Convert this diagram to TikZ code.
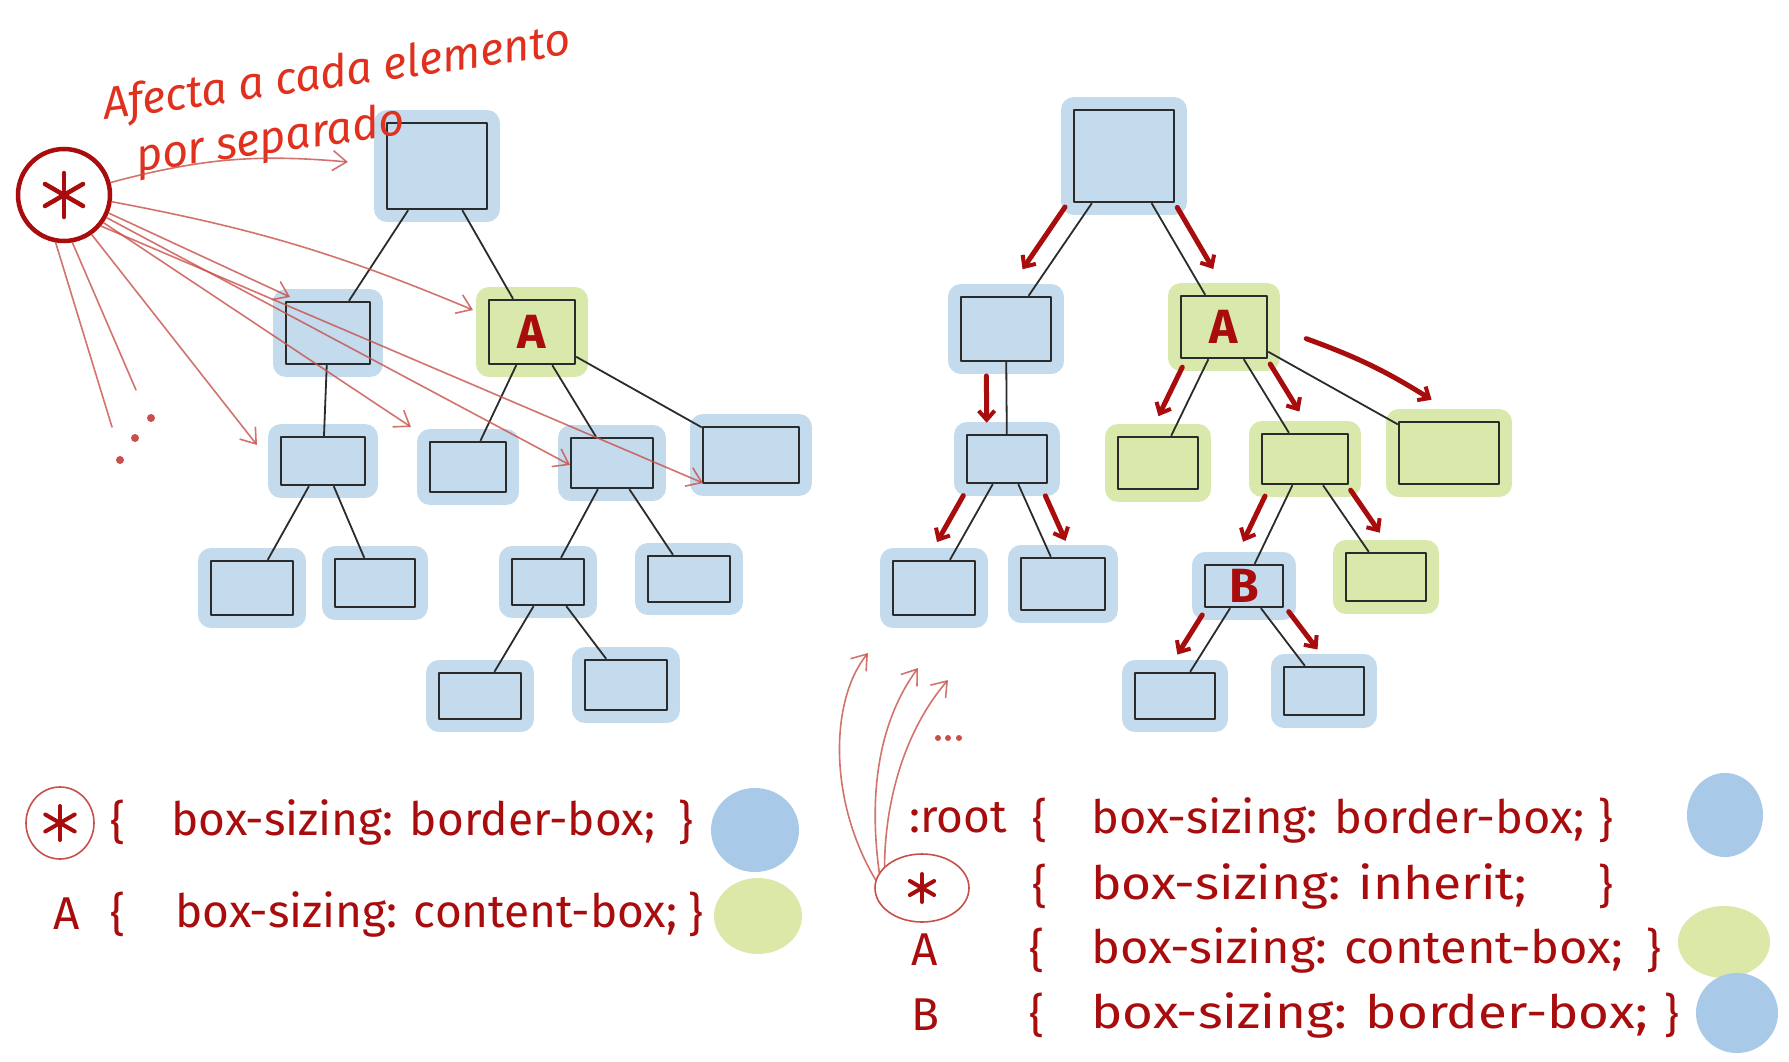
\documentclass[tikz,border=0pt]{standalone}
\usepackage{fontspec}
\setmainfont{Fira Sans}
\usetikzlibrary{arrows.meta,calc,shapes.geometric}

\definecolor{ink}{HTML}{2B2B2B}
\definecolor{boxblue}{HTML}{C3DBEC}
\definecolor{boxgreen}{HTML}{D9E8AB}
\definecolor{legblue}{HTML}{A8C9E8}
\definecolor{leggreen}{HTML}{DBE8A8}
\definecolor{handred}{HTML}{A80C0C}
\definecolor{titlered}{HTML}{E0301E}
\definecolor{sketchred}{HTML}{C8504A}

\tikzset{
  sz/.style 2 args={minimum width=#1pt, minimum height=#2pt},
  box/.style={draw=ink, line width=2.4pt, inner sep=0pt, line join=round},
  bbox/.style={box, fill=boxblue, preaction={draw=boxblue, line width=26pt, line join=round}},
  gbox/.style={box, fill=boxgreen, preaction={draw=boxgreen, line width=26pt, line join=round}},
  edge/.style={draw=ink, line width=1.8pt},
  flow/.style={draw=handred, line width=5pt, line cap=round, -{Straight Barb[length=9pt,width=16pt,line width=4pt]}},
  sk/.style={draw=sketchred, line width=1.6pt, opacity=.8, line cap=round, -{Straight Barb[length=14pt,width=20pt]}},
  skline/.style={draw=sketchred, line width=1.6pt, opacity=.8, line cap=round},
  title/.style={text=titlered, font=\fontsize{45}{48}\selectfont\itshape, inner sep=0pt},
  legend/.style={text=handred, font=\fontsize{46}{50}\selectfont, inner sep=0pt},
  letter/.style={text=handred, font=\fontsize{48}{50}\selectfont\bfseries},
}

% asterisk made of three strokes
\newcommand\starmark[3]{%
  \foreach \a in {90,30,-30}
    \draw[handred, line width=#3, line cap=round] ($(#1)+(\a:#2)$) -- ($(#1)+(\a+180:#2)$);
}

\begin{document}
\begin{tikzpicture}[x=1pt, y=-1pt]
  \fill[white] (0,0) rectangle (1789,1062);
  \useasboundingbox (0,0) rectangle (1789,1062);

  % left tree
  \node[bbox, sz={100}{86}] (r0) at (437,166) {};
  \node[bbox, sz={84}{62}] (l1) at (328,333) {};
  \node[gbox, sz={86}{64}, letter] (la) at (532,332) {A};
  \node[bbox, sz={84}{48}] (l2a) at (323,461) {};
  \node[bbox, sz={76}{50}] (l2b) at (468,467) {};
  \node[bbox, sz={82}{50}] (l2c) at (612,463) {};
  \node[bbox, sz={96}{56}] (l2d) at (751,455) {};
  \node[bbox, sz={82}{54}] (l3a) at (252,588) {};
  \node[bbox, sz={80}{48}] (l3b) at (375,583) {};
  \node[bbox, sz={72}{46}] (l3c) at (548,582) {};
  \node[bbox, sz={82}{46}] (l3d) at (689,579) {};
  \node[bbox, sz={82}{46}] (l4a) at (480,696) {};
  \node[bbox, sz={82}{50}] (l4b) at (626,685) {};

  \foreach \p/\c in {r0/l1, r0/la, l1/l2a, la/l2b, la/l2c, la/l2d,
                     l2a/l3a, l2a/l3b, l2c/l3c, l2c/l3d, l3c/l4a, l3c/l4b}
    \draw[edge] (\p) -- (\c);

  % right tree
  \node[bbox, sz={100}{92}] (q0) at (1124,156) {};
  \node[bbox, sz={90}{64}] (q1) at (1006,329) {};
  \node[gbox, sz={86}{62}, letter] (qa) at (1224,327) {A};
  \node[bbox, sz={80}{48}] (q2a) at (1007,459) {};
  \node[gbox, sz={80}{52}] (q2b) at (1158,463) {};
  \node[gbox, sz={86}{50}] (q2c) at (1305,459) {};
  \node[gbox, sz={100}{62}] (q2d) at (1449,453) {};
  \node[bbox, sz={82}{54}] (q3a) at (934,588) {};
  \node[bbox, sz={84}{52}] (q3b) at (1063,584) {};
  \node[bbox, sz={78}{42}, letter] (qb) at (1244,586) {B};
  \node[gbox, sz={80}{48}] (q3d) at (1386,577) {};
  \node[bbox, sz={80}{46}] (q4a) at (1175,696) {};
  \node[bbox, sz={80}{48}] (q4b) at (1324,691) {};

  \foreach \p/\c in {q0/q1, q0/qa, q1/q2a, qa/q2b, qa/q2c, qa/q2d,
                     q2a/q3a, q2a/q3b, q2c/qb, q2c/q3d, qb/q4a, qb/q4b}
    \draw[edge] (\p) -- (\c);

  % inheritance arrows
  \foreach \p/\c/\s in {q0/q1/-90, q0/qa/90, q1/q2a/-90, qa/q2b/-90, qa/q2c/90,
                        q2a/q3a/-90, q2a/q3b/90, q2c/qb/-90, q2c/q3d/90, qb/q4a/-90, qb/q4b/90}
    \draw[flow] ($(\p)!.36!(\c)!20pt!\s:(\c)$) -- ($(\p)!.72!(\c)!20pt!\s:(\c)$);
  \draw[flow] ($(qa)!.3!(q2d)!30pt!90:(q2d)$) to[bend left=6] ($(qa)!.84!(q2d)!38pt!90:(q2d)$);

  % title
  \node[title, anchor=base west, rotate=8] (ttl1) at (105,120) {Afecta a cada elemento};
  \node[title, anchor=base west, rotate=8] (ttl2) at (138,172) {por separado};

  % universal selector and its reach
  \node[draw=handred, line width=4.5pt, circle, minimum size=92pt] (star) at (64,195) {};
  \starmark{star}{22}{4.5pt}

  \coordinate (t1) at (348,162);
  \coordinate (t2) at (473,310);
  \coordinate (t3) at (290,297);
  \coordinate (t4) at (411,427);
  \coordinate (t5) at (570,465);
  \coordinate (t6) at (703,483);
  \coordinate (t7) at (257,445);
  \draw[sk] (star.15) to[bend left=10] (t1);
  \draw[sk] (star.-8) to[bend left=6] (t2);
  \draw[sk] (star.-22) -- (t3);
  \draw[sk] (star.-35) -- (t4);
  \draw[sk] (star.-28) -- (t5);
  \draw[sk] (star.-40) -- (t6);
  \draw[sk] (star.-55) -- (t7);
  \draw[skline] (star.-100) -- (112,427);
  \draw[skline] (star.-80) -- (136,390);
  \foreach \x/\y in {120/460, 135/438, 151/418}
    \fill[sketchred] (\x,\y) circle (4pt);

  % left legend
  \node[draw=sketchred, line width=1.6pt, ellipse, minimum width=68pt, minimum height=72pt] (lstar) at (60,823) {};
  \starmark{lstar}{17}{4pt}
  \node[legend] (lob1) at (118,822) {\{};
  \node[legend, anchor=west] (lrule1) at (171,822) {box-sizing: border-box;};
  \node[legend] (lcb1) at (686,822) {\}};
  \fill[legblue] (755,830) ellipse [x radius=44pt, y radius=42pt];

  \node[legend] (lsel2) at (67,914) {A};
  \node[legend] (lob2) at (118,914) {\{};
  \node[legend, anchor=west] (lrule2) at (175,914) {box-sizing: content-box;};
  \node[legend] (lcb2) at (696,914) {\}};
  \fill[leggreen] (758,916) ellipse [x radius=44pt, y radius=38pt];

  % right legend
  \node[legend] (rsel1) at (958,818) {:root};
  \node[legend] (rob1) at (1040,820) {\{};
  \node[legend, anchor=west, xscale=1.02] (rrule1) at (1091,820) {box-sizing: border-box;};
  \node[legend] (rcb1) at (1606,820) {\}};
  \fill[legblue] (1725,815) ellipse [x radius=38pt, y radius=42pt];

  \node[draw=sketchred, line width=1.6pt, ellipse, minimum width=94pt, minimum height=68pt] (rstar) at (922,888) {};
  \starmark{rstar}{14}{4pt}
  \node[legend] (rob2) at (1040,886) {\{};
  \node[legend, anchor=west, xscale=1.12] (rrule2) at (1091,886) {box-sizing: inherit;};
  \node[legend] (rcb2) at (1606,886) {\}};

  \node[legend] (rsel3) at (925,950) {A};
  \node[legend] (rob3) at (1037,950) {\{};
  \node[legend, anchor=west, xscale=1.06] (rrule3) at (1091,950) {box-sizing: content-box;};
  \node[legend] (rcb3) at (1654,950) {\}};
  \fill[leggreen] (1724,942) ellipse [x radius=46pt, y radius=36pt];

  \node[legend] (rsel4) at (925,1015) {B};
  \node[legend] (rob4) at (1037,1015) {\{};
  \node[legend, anchor=west, xscale=1.15] (rrule4) at (1091,1015) {box-sizing: border-box;};
  \node[legend] (rcb4) at (1672,1015) {\}};
  \fill[legblue] (1737,1013) ellipse [x radius=41pt, y radius=40pt];

  \coordinate (u1) at (868,653);
  \coordinate (u2) at (918,668);
  \coordinate (u3) at (948,680);
  \draw[sk] (rstar.170) .. controls (828,800) and (830,700) .. (u1);
  \draw[sk] (rstar.160) .. controls (868,790) and (880,720) .. (u2);
  \draw[sk] (rstar.150) .. controls (885,800) and (905,730) .. (u3);
  \foreach \x in {938,948,959}
    \fill[sketchred] (\x,738) circle (3pt);
\end{tikzpicture}
\end{document}
